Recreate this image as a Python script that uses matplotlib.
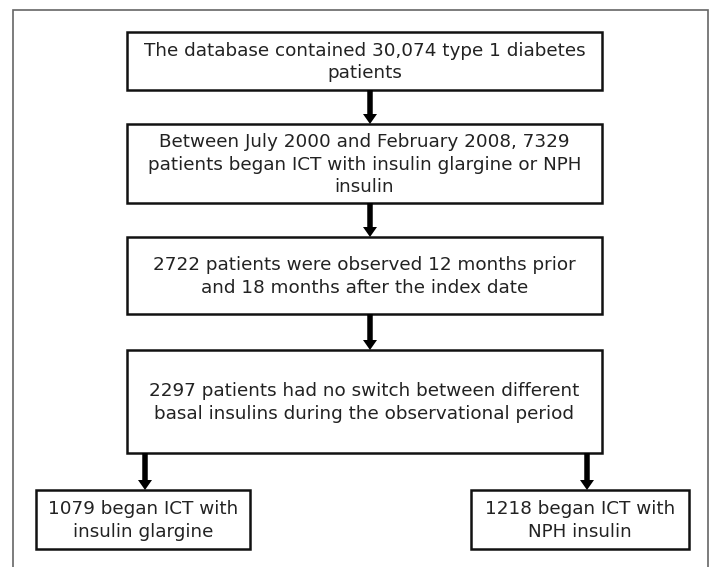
import matplotlib
matplotlib.use("Agg")
import matplotlib.pyplot as plt
from matplotlib.patches import Rectangle, FancyArrow

# Flowchart content
box_texts = [
    "The database contained 30,074 type 1 diabetes\npatients",
    "Between July 2000 and February 2008, 7329\npatients began ICT with insulin glargine or NPH\ninsulin",
    "2722 patients were observed 12 months prior\nand 18 months after the index date",
    "2297 patients had no switch between different\nbasal insulins during the observational period",
    "1079 began ICT with\ninsulin glargine",
    "1218 began ICT with\nNPH insulin",
]
# layout (pixel coordinates: x0, x1, y0, y1)
box_px = [
    (127, 602, 32, 90),
    (127, 602, 124, 203),
    (127, 602, 237, 314),
    (127, 602, 350, 453),
    (36, 250, 490, 549),
    (471, 689, 490, 549),
]
# arrows: (x, y_start, y_end)
arrows = [
    (370, 90, 124),
    (370, 203, 237),
    (370, 314, 350),
    (145, 453, 490),
    (587, 453, 490),
]

W, H = 710, 567
fig = plt.figure(figsize=(W / 100, H / 100), dpi=100)
ax = fig.add_axes([0, 0, 1, 1])
ax.set_xlim(0, W)
ax.set_ylim(H, 0)
ax.axis("off")

# outer frame (open at bottom)
ax.plot([13, 13, 708, 708], [H + 5, 10, 10, H + 5], color="#666666", lw=1.2,
        solid_joinstyle="miter")

for (x0, x1, y0, y1), txt in zip(box_px, box_texts):
    ax.add_patch(Rectangle((x0, y0), x1 - x0, y1 - y0, fill=False,
                           edgecolor="#111111", lw=1.8))
    ax.text((x0 + x1) / 2, (y0 + y1) / 2 + 1, txt, ha="center", va="center",
            fontsize=13.2, color="#222222", linespacing=1.29,
            family="DejaVu Sans")

for x, ys, ye in arrows:
    ax.add_patch(FancyArrow(x, ys, 0, ye - ys, width=5.5, head_width=14,
                            head_length=10, length_includes_head=True,
                            color="#000000", lw=0))

fig.savefig("out.png", dpi=100)
